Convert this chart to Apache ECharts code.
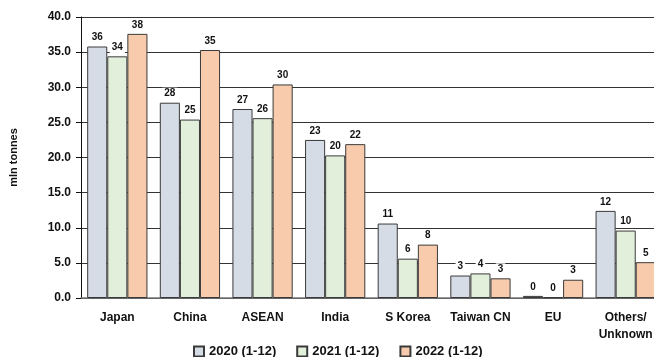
<!DOCTYPE html>
<html>
<head>
<meta charset="utf-8">
<script src="https://cdn.jsdelivr.net/npm/echarts@6/dist/echarts.min.js"></script>
<style>
  html, body { margin: 0; padding: 0; background: #fff; }
  #chart { width: 654px; height: 357px; }
</style>
</head>
<body>
<div id="chart"></div>
<script>
// categories and series (mln tonnes)
const categories = ['Japan', 'China', 'ASEAN', 'India', 'S Korea', 'Taiwan CN', 'EU', 'Others/\nUnknown']
const seriesNames = ['2020 (1-12)', '2021 (1-12)', '2022 (1-12)']
const s2020 = [35.8, 27.8, 26.9, 22.5, 10.6, 3.2, 0.3, 12.4]
const s2021 = [34.4, 25.4, 25.6, 20.3, 5.6, 3.5, 0.1, 9.6]
const s2022 = [37.6, 35.3, 30.4, 21.9, 7.6, 2.8, 2.6, 5.1]
const colors = ['#d6dce5', '#e2efda', '#f8cbad']

const font = 'Liberation Sans, Arial, sans-serif'

function bar (name, data, color) {
  return {
    name: name,
    type: 'bar',
    data: data,
    barGap: '0%',
    barCategoryGap: '17%',
    itemStyle: {
      color: color,
      borderColor: '#3a3a3a',
      borderWidth: 1
    },
    label: {
      show: true,
      position: 'top',
      distance: 3,
      color: '#111',
      fontSize: 10,
      fontWeight: 'bold',
      fontFamily: font,
      backgroundColor: '#fff',
      padding: [1, 2],
      formatter: p => p.value.toFixed(0)
    }
  }
}

let myChart = echarts.init(document.getElementById('chart'))
myChart.setOption({
  animation: false,
  textStyle: { fontFamily: font },
  grid: {
    left: 81,
    right: -8,
    top: 17,
    bottom: 59,
    containLabel: false,
    outerBoundsMode: 'none'
  },
  legend: {
    data: seriesNames,
    left: 188,
    top: 340,
    itemWidth: 10,
    itemHeight: 10,
    itemGap: 20,
    icon: 'rect',
    textStyle: {
      color: '#111',
      fontSize: 13,
      fontWeight: 'bold',
      fontFamily: font
    }
  },
  xAxis: {
    type: 'category',
    data: categories,
    axisLine: { lineStyle: { color: '#777', width: 1.5 } },
    axisTick: { show: false },
    axisLabel: {
      interval: 0,
      margin: 11,
      color: '#111',
      fontSize: 12,
      fontWeight: 'bold',
      lineHeight: 17,
      fontFamily: font
    }
  },
  yAxis: {
    type: 'value',
    min: 0,
    max: 40,
    interval: 5,
    name: 'mln tonnes',
    nameLocation: 'middle',
    nameGap: 62,
    nameTextStyle: {
      color: '#111',
      fontSize: 11,
      fontWeight: 'bold',
      fontFamily: font
    },
    axisLine: { show: true, lineStyle: { color: '#111', width: 1 } },
    axisTick: { show: true, length: 5, lineStyle: { color: '#111' } },
    axisLabel: {
      margin: 10,
      color: '#111',
      fontSize: 12,
      fontWeight: 'bold',
      fontFamily: font,
      formatter: v => v.toFixed(1)
    },
    splitLine: { show: true, lineStyle: { color: '#333', width: 1 } }
  },
  series: [
    bar(seriesNames[0], s2020, colors[0]),
    bar(seriesNames[1], s2021, colors[1]),
    bar(seriesNames[2], s2022, colors[2])
  ]
})
</script>
</body>
</html>
